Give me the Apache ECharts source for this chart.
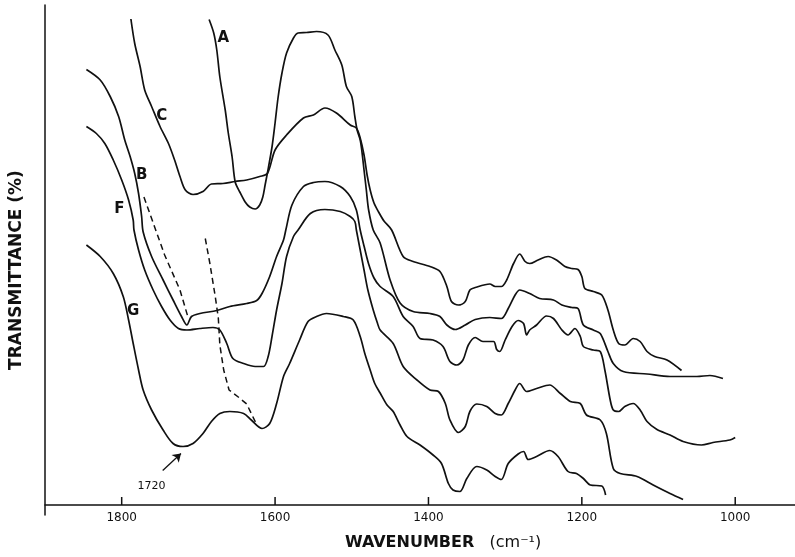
<!DOCTYPE html>
<html>
<head>
<meta charset="utf-8">
<script src="https://cdn.jsdelivr.net/npm/echarts@6/dist/echarts.min.js"></script>
<style>
  html, body { margin: 0; padding: 0; background: #fff; overflow: hidden; }
  #chart { width: 795px; height: 557px; }
</style>
</head>
<body>
<div id="chart"></div>
<script>
// Infrared transmittance spectra, offset vertically: [wavenumber cm-1, transmittance]
const spectrumA = [
  [1686,97.1],[1680,94.4],[1676,91],[1672,85.6],[1665,79],[1661,74.4],[1656,69.6],[1652,64.6],[1646,62.6],
  [1639,60.6],[1633,59.6],[1626,59.2],[1620,60],[1616,61.6],[1613,64],[1610,66.4],[1604,71.6],[1600,76.4],
  [1596,81.6],[1591,86.4],[1585,90.4],[1576,93.4],[1570,94.4],[1559,94.5],[1546,94.7],[1531,94],[1522,91],
  [1513,88],[1507,83.7],[1500,81.7],[1496,77.7],[1493,75],[1489,73],[1487,71],[1484,67],[1481,63],[1478,59],
  [1472,55],[1463,52.4],[1450,45],[1437,40.4],[1420,38.7],[1398,38.3],[1385,37.7],[1376,36],[1365,35.1],
  [1352,36],[1339,37.1],[1320,37.5],[1305,37.3],[1296,39.3],[1287,42],[1281,43],[1268,42.3],[1255,41.3],
  [1237,41],[1226,40],[1213,39.5],[1205,39.3],[1198,36],[1185,35],[1176,34.3],[1166,30.7],[1159,28.3],
  [1146,26.7],[1115,26.2],[1085,25.7],[1050,25.7],[1033,25.9],[1016,25.3]
];
const spectrumC = [
  [1788,97.2],[1783,92.3],[1776,87.7],[1770,83],[1761,79.7],[1750,75.7],[1739,72.3],[1731,69],[1724,65.7],
  [1717,63],[1707,62.1],[1694,62.7],[1683,64.2],[1668,64.3],[1652,64.7],[1637,65],[1620,65.7],[1610,66.3],
  [1600,71],[1585,74],[1563,77.4],[1550,78],[1535,79.4],[1520,78.4],[1502,76],[1494,75.4],[1489,73.4],
  [1484,70],[1480,66],[1476,63],[1471,60.4],[1465,58.6],[1458,56.8],[1448,55],[1433,49.7],[1420,48.7],
  [1398,47.7],[1385,46.7],[1376,43.7],[1370,40.7],[1361,40],[1352,40.7],[1346,43],[1339,43.5],[1320,44.2],
  [1313,43.7],[1305,43.7],[1298,45],[1289,48.3],[1281,50.2],[1274,48.7],[1268,48.3],[1257,49],[1244,49.7],
  [1233,49],[1222,47.7],[1213,47.3],[1205,47.1],[1200,45.7],[1196,43.3],[1185,42.7],[1174,42],[1166,39],
  [1159,35],[1152,32.3],[1144,32],[1133,33.3],[1124,32.7],[1115,30.7],[1105,29.7],[1089,29],[1070,26.9]
];
const spectrumB = [
  [1846,87.1],[1828,85],[1815,81.7],[1804,77.7],[1796,73],[1789,69.7],[1783,66.3],[1778,62.3],[1774,57.7],
  [1772,54.6],[1761,49.7],[1746,45],[1733,41],[1722,37.7],[1715,36],[1709,37.7],[1698,38.3],[1676,38.9],
  [1659,39.7],[1637,40.3],[1624,40.9],[1617,42.3],[1607,45.7],[1598,49.7],[1589,53],[1586,55],[1578,60],
  [1563,63.7],[1550,64.5],[1535,64.7],[1515,63.7],[1502,61.7],[1494,59],[1489,55],[1484,51.8],[1478,48.2],
  [1471,45.4],[1463,43.7],[1446,41.7],[1433,37.7],[1420,35.7],[1411,33.3],[1394,33],[1381,31.7],[1372,28.7],
  [1363,28],[1355,29],[1348,32],[1339,33.5],[1329,32.7],[1315,32.7],[1311,31.1],[1307,30.7],[1300,33],
  [1291,35.7],[1283,36.9],[1276,36.3],[1272,34],[1268,35],[1259,36],[1246,37.8],[1237,37.3],[1226,35],
  [1218,34],[1209,35.3],[1202,33.7],[1198,31.7],[1185,31],[1176,30.7],[1170,27],[1163,21],[1159,19],
  [1152,18.7],[1144,19.7],[1133,20.3],[1124,19],[1115,16.7],[1102,15.1],[1085,14],[1068,12.7],[1044,12],
  [1029,12.5],[1007,13],[1000,13.5]
];
const spectrumF = [
  [1846,75.7],[1833,74.3],[1822,72.3],[1811,69],[1800,65],[1791,61],[1785,57],[1784,55],[1778,51],[1770,47],
  [1759,43],[1748,39.7],[1737,37],[1726,35.3],[1715,35],[1698,35.3],[1681,35.5],[1672,35],[1663,32.3],
  [1655,29.3],[1641,28.3],[1626,27.7],[1615,27.7],[1609,29.7],[1604,33.7],[1598,39],[1591,44.3],[1585,49.7],
  [1576,53.7],[1570,55],[1554,58.3],[1535,59.1],[1515,58.7],[1502,57.7],[1496,56.7],[1494,55],[1489,51],
  [1484,47],[1479,43],[1472,39],[1467,36.6],[1463,35],[1446,32.3],[1433,27.7],[1415,25],[1398,23],[1387,22.7],
  [1378,20.3],[1372,17],[1361,14.5],[1352,15.7],[1346,18.7],[1337,20.2],[1324,19.7],[1313,18.3],[1305,18],
  [1296,20.3],[1287,23],[1281,24.3],[1272,22.7],[1259,23.3],[1242,24],[1228,22.3],[1215,20.7],[1202,20.3],
  [1194,18],[1176,17],[1168,14.3],[1159,7.3],[1150,6.3],[1128,5.7],[1107,4],[1085,2.3],[1068,1.1]
];
const spectrumG = [
  [1846,52],[1828,49.7],[1811,46.3],[1798,41.7],[1791,37],[1785,32.3],[1778,27],[1772,23],[1761,19],[1746,15],
  [1733,12.3],[1720,11.7],[1707,12.3],[1694,14.3],[1683,16.7],[1672,18.3],[1659,18.7],[1641,18.3],[1631,17],
  [1617,15.3],[1607,16.3],[1598,20.3],[1589,25.7],[1581,28.3],[1568,33],[1557,36.7],[1546,37.7],[1533,38.3],
  [1511,37.7],[1498,37],[1489,33.7],[1483,30.3],[1476,27],[1470,24.3],[1463,22.4],[1454,20],[1446,18.7],
  [1437,16],[1428,13.7],[1411,12],[1394,10],[1383,8.3],[1374,4.3],[1368,3],[1359,2.7],[1350,5.3],[1337,7.7],
  [1324,7],[1313,5.7],[1305,5.1],[1296,8.3],[1283,10.2],[1276,10.7],[1270,9.1],[1259,9.7],[1242,10.9],
  [1231,9.7],[1218,6.7],[1207,6.3],[1198,5.3],[1189,4],[1174,3.8],[1169,2]
];
// Dashed guides tracing the shift of the carbonyl band
const shiftGuide1 = [[1771,61.6],[1744,50],[1724,43],[1714,37.8]];
const shiftGuide2 = [[1691,53.3],[1685,48.3],[1678,41.7],[1674,37.4],[1672,32],[1667,27],[1660,23],[1648,21.6],[1637,20.2],[1625,16.4]];
// Curve letters and the 1720 band marker
const curveLabels = [[1667.5,93.3,'A'],[1747.8,77.7,'C'],[1773.9,66,'B'],[1803.1,59.2,'F'],[1784.9,38.8,'G']];
const bandLabel = [1761,3.8,'1720'];
const bandArrow = [[1746.5,6.9],[1722.7,10.3]];
// Wavenumber axis: 1900 at the left, running past the right edge; ticks every 200
const axisMin = 800, axisMax = 1900, tickStep = 200;
const tickValues = [1000, 1200, 1400, 1600, 1800];
const tickHeight = 1.6; // upward tick marks, in transmittance units

const ink = '#111111';
function spectrum(name, data) {
  return {
    name, type: 'line', data, showSymbol: false, symbol: 'none', smooth: 0.3,
    lineStyle: { color: ink, width: 1.7 }, silent: true
  };
}
function guide(name, data) {
  return {
    name, type: 'line', data, showSymbol: false, symbol: 'none',
    lineStyle: { color: ink, width: 1.5, type: [6, 4] }, silent: true
  };
}

const chart = echarts.init(document.getElementById('chart'), null, { renderer: 'canvas' });
chart.setOption({
  animation: false,
  backgroundColor: '#fff',
  // the plot extends beyond the right edge so that 922 cm-1 falls on it
  grid: { left: 45, right: -93.6, top: 5, bottom: 42, containLabel: false, outerBoundsMode: 'none' },
  xAxis: {
    type: 'value', inverse: true, min: axisMin, max: axisMax, interval: tickStep,
    position: 'bottom', offset: -10,
    axisLine: { show: true, onZero: false, lineStyle: { color: ink, width: 1.5 } },
    axisTick: { show: false },
    axisLabel: {
      margin: 7, fontFamily: 'DejaVu Sans', fontSize: 12, color: ink,
      formatter: v => (v % tickStep === 0 ? String(v) : '')
    },
    splitLine: { show: false }
  },
  yAxis: {
    type: 'value', min: -2, max: 100,
    axisLine: { show: true, lineStyle: { color: ink, width: 1.5 } },
    axisTick: { show: false }, axisLabel: { show: false }, splitLine: { show: false }
  },
  series: [
    spectrum('A', spectrumA),
    spectrum('C', spectrumC),
    spectrum('B', spectrumB),
    spectrum('F', spectrumF),
    Object.assign(spectrum('G', spectrumG), {
      markLine: {
        silent: true, symbol: ['none', 'arrow'], symbolSize: 8,
        label: { show: false },
        lineStyle: { color: ink, width: 1.3, type: 'solid', opacity: 1 },
        itemStyle: { color: ink },
        data: [[{ coord: bandArrow[0] }, { coord: bandArrow[1] }]]
      }
    }),
    guide('guide1', shiftGuide1),
    guide('guide2', shiftGuide2),
    {
      name: 'labels', type: 'scatter', symbolSize: 0, silent: true,
      itemStyle: { opacity: 1, color: ink },
      data: curveLabels.map(d => ({ value: d })).concat([{ value: bandLabel, label: { fontSize: 11, fontWeight: 'normal' } }]),
      label: {
        show: true, position: [0, 0], align: 'center', verticalAlign: 'middle', color: ink,
        fontFamily: 'DejaVu Sans', fontSize: 15, fontWeight: 'bold',
        formatter: p => p.value[2]
      }
    }
  ]
});

// Upward tick marks on the wavenumber axis, placed through the grid's own scales
const tickMarks = tickValues.map((v, i) => {
  const base = chart.convertToPixel({ gridIndex: 0 }, [v, 0]);
  const top = chart.convertToPixel({ gridIndex: 0 }, [v, tickHeight]);
  return {
    type: 'line', id: 'tick' + i, silent: true, z: 10,
    shape: { x1: base[0], y1: base[1], x2: top[0], y2: top[1] },
    style: { stroke: ink, lineWidth: 1.5 }
  };
});

chart.setOption({
  graphic: [
    {
      type: 'text', id: 'yTitle', x: 17, y: 270, rotation: Math.PI / 2,
      style: {
        text: 'TRANSMITTANCE (%)', fill: ink,
        font: 'bold 17px "DejaVu Sans"', textAlign: 'center', textVerticalAlign: 'middle'
      }
    },
    {
      type: 'text', id: 'xTitle', x: 345, y: 543,
      style: {
        text: '{b|WAVENUMBER}{n|   (cm⁻¹)}', fill: ink, textAlign: 'left', textVerticalAlign: 'middle',
        rich: {
          b: { font: 'bold 16px "DejaVu Sans"', fill: ink },
          n: { font: '16px "DejaVu Sans"', fill: ink }
        }
      }
    }
  ].concat(tickMarks)
});
</script>
</body>
</html>
